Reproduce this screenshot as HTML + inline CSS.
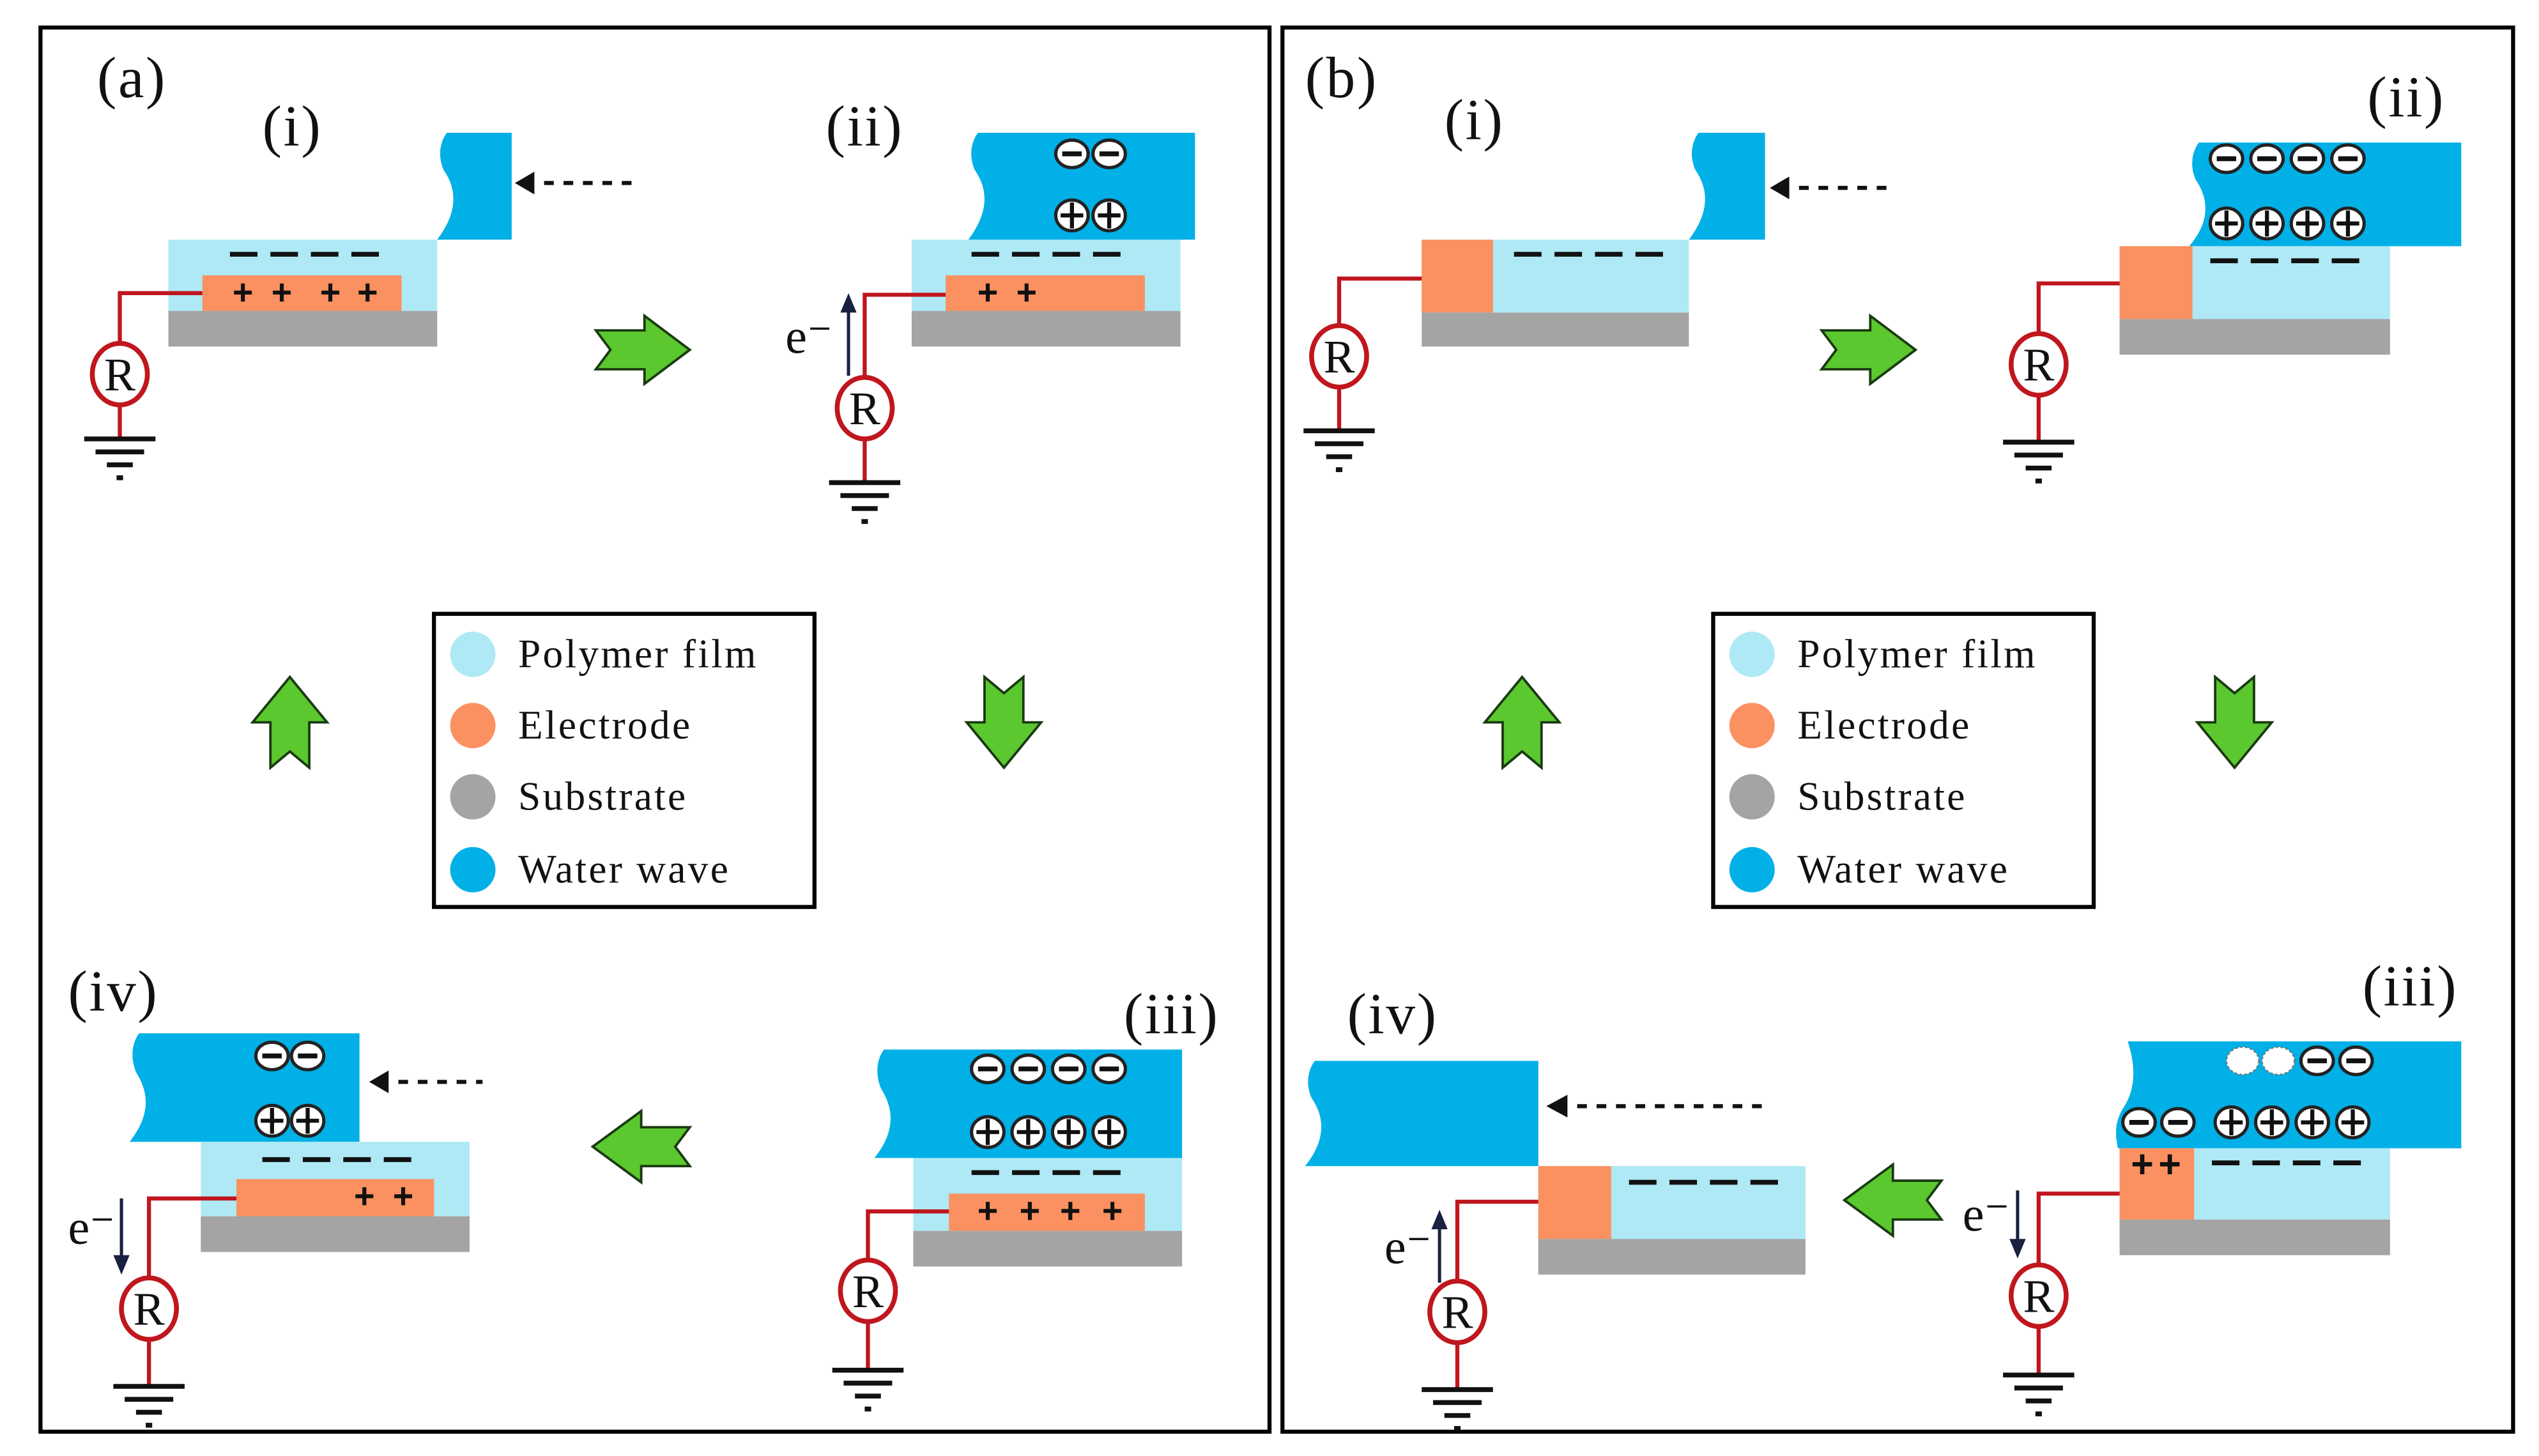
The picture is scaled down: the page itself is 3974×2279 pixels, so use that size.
<!DOCTYPE html>
<html><head><meta charset="utf-8"><style>html,body{margin:0;padding:0;background:#fff}svg{display:block}</style></head><body>
<svg width="3974" height="2279" viewBox="0 0 1568 899" preserveAspectRatio="none" xmlns="http://www.w3.org/2000/svg" font-family="Liberation Serif, serif">
<defs>
<g id="m"><ellipse cx="0" cy="0" rx="10" ry="8.5" fill="#fff" stroke="#222" stroke-width="2"/><line x1="-6" y1="0" x2="6" y2="0" stroke="#111" stroke-width="3"/></g>
<g id="p"><ellipse cx="0" cy="0" rx="10" ry="9.5" fill="#fff" stroke="#222" stroke-width="2"/><line x1="-7" y1="0" x2="7" y2="0" stroke="#111" stroke-width="2.5"/><line x1="0" y1="-8" x2="0" y2="8" stroke="#111" stroke-width="2.5"/></g>
<g id="d"><ellipse cx="0" cy="0" rx="10" ry="8.5" fill="#fff" stroke="#777" stroke-width="1" stroke-dasharray="1.5 1.5"/></g>
<g id="gnd" stroke="#111" stroke-width="3"><line x1="-22" y1="0" x2="22" y2="0"/><line x1="-15" y1="8" x2="15" y2="8"/><line x1="-8" y1="16" x2="8" y2="16"/><line x1="-2" y1="24" x2="2" y2="24"/></g>
<g id="R"><ellipse cx="0" cy="0" rx="17" ry="19" fill="#fff" stroke="#c0161e" stroke-width="3"/><text x="0" y="10" font-size="29" text-anchor="middle" fill="#111">R</text></g>
</defs>
<g fill="none" stroke="#000" stroke-width="2.5"><rect x="25" y="17" width="759" height="867"/><rect x="792" y="17" width="760" height="867"/></g>

<g font-size="36" fill="#111" letter-spacing="1">
<text x="60" y="60">(a)</text><text x="162" y="90">(i)</text><text x="510" y="90">(ii)</text><text x="42" y="624">(iv)</text><text x="694" y="638">(iii)</text>
<text x="806" y="60">(b)</text><text x="892" y="86">(i)</text><text x="1462" y="72">(ii)</text><text x="832" y="638">(iv)</text><text x="1459" y="621">(iii)</text>
</g>

<!-- green arrows -->
<g fill="#5ac82e" stroke="#1a3a10" stroke-width="1.5">
<polygon points="368,204 398,204 398,195 426,216 398,237 398,228 368,228 377,216"/>
<polygon points="1125,204 1155,204 1155,195 1183,216 1155,237 1155,228 1125,228 1134,216"/>
<polygon points="426,696 396,696 396,686 366,708 396,730 396,720 426,720 417,708"/>
<polygon points="1199,729 1169,729 1169,719 1139,741 1169,763 1169,753 1199,753 1190,741"/>
<polygon points="608,418 620,428 632,418 632,446 643,446 620,474 597,446 608,446"/>
<polygon points="1368,418 1380,428 1392,418 1392,446 1403,446 1380,474 1357,446 1368,446"/>
<polygon points="167,474 179,464 191,474 191,446 202,446 179,418 156,446 167,446"/>
<polygon points="928,474 940,464 952,474 952,446 963,446 940,418 917,446 928,446"/>
</g>

<!-- legends -->
<g>
<rect x="268" y="379" width="235" height="181" fill="#fff" stroke="#000" stroke-width="2.5"/>
<circle cx="292" cy="404" r="14" fill="#aee9f5"/><circle cx="292" cy="448" r="14" fill="#fb9160"/><circle cx="292" cy="492" r="14" fill="#a4a4a4"/><circle cx="292" cy="537" r="14" fill="#00b0e6"/>
<g font-size="25" fill="#111" letter-spacing="1.3"><text x="320" y="412">Polymer film</text><text x="320" y="456">Electrode</text><text x="320" y="500">Substrate</text><text x="320" y="545">Water wave</text></g>
<rect x="1058" y="379" width="235" height="181" fill="#fff" stroke="#000" stroke-width="2.5"/>
<circle cx="1082" cy="404" r="14" fill="#aee9f5"/><circle cx="1082" cy="448" r="14" fill="#fb9160"/><circle cx="1082" cy="492" r="14" fill="#a4a4a4"/><circle cx="1082" cy="537" r="14" fill="#00b0e6"/>
<g font-size="25" fill="#111" letter-spacing="1.3"><text x="1110" y="412">Polymer film</text><text x="1110" y="456">Electrode</text><text x="1110" y="500">Substrate</text><text x="1110" y="545">Water wave</text></g>
</g>

<g stroke-linecap="butt">
<!-- a(i) -->
<path d="M276 82 H316 V148 H270 C282 132 283 118 274 105 C270 96 272 87 276 82Z" fill="#00b0e6"/>
<path d="M318 113 L330 106 V120Z" fill="#111"/><line x1="336" y1="113" x2="390" y2="113" stroke="#111" stroke-width="2.5" stroke-dasharray="6 6"/>
<rect x="104" y="148" width="166" height="45" fill="#aee9f5"/><rect x="125" y="170" width="123" height="22" fill="#fb9160"/><rect x="104" y="192" width="166" height="22" fill="#a4a4a4"/>
<line x1="142" y1="157" x2="238" y2="157" stroke="#111" stroke-width="3" stroke-dasharray="17 8"/>
<g font-size="22" font-weight="bold" font-family="Liberation Sans,sans-serif" fill="#111" text-anchor="middle"><text x="150" y="188">+</text><text x="174" y="188">+</text><text x="204" y="188">+</text><text x="227" y="188">+</text></g>
<polyline points="125,181 74,181 74,212" fill="none" stroke="#c0161e" stroke-width="2.5"/><line x1="74" y1="250" x2="74" y2="270" stroke="#c0161e" stroke-width="2.5"/>
<use href="#R" x="74" y="231"/><use href="#gnd" x="74" y="271"/>

<!-- a(ii) -->
<path d="M604 82 H738 V148 H598 C610 132 611 118 602 105 C598 96 600 87 604 82Z" fill="#00b0e6"/>
<use href="#m" x="662" y="95"/><use href="#m" x="685" y="95"/><use href="#p" x="662" y="133"/><use href="#p" x="685" y="133"/>
<rect x="563" y="148" width="166" height="45" fill="#aee9f5"/><rect x="584" y="170" width="123" height="22" fill="#fb9160"/><rect x="563" y="192" width="166" height="22" fill="#a4a4a4"/>
<line x1="600" y1="157" x2="696" y2="157" stroke="#111" stroke-width="3" stroke-dasharray="17 8"/>
<g font-size="22" font-weight="bold" font-family="Liberation Sans,sans-serif" fill="#111" text-anchor="middle"><text x="610" y="188">+</text><text x="634" y="188">+</text></g>
<polyline points="584,182 534,182 534,233" fill="none" stroke="#c0161e" stroke-width="2.5"/><line x1="534" y1="271" x2="534" y2="297" stroke="#c0161e" stroke-width="2.5"/>
<use href="#R" x="534" y="252"/><use href="#gnd" x="534" y="298"/>
<line x1="524" y1="232" x2="524" y2="190" stroke="#1a2040" stroke-width="2"/><path d="M524 181 L519 193 H529Z" fill="#1a2040"/>
<text x="485" y="218" font-size="30" fill="#111">e⁻</text>

<!-- a(iv) -->
<path d="M86 638 H222 V705 H80 C92 690 93 676 84 662 C80 652 82 643 86 638Z" fill="#00b0e6"/>
<use href="#m" x="168" y="652"/><use href="#m" x="190" y="652"/><use href="#p" x="168" y="692"/><use href="#p" x="190" y="692"/>
<path d="M228 668 L240 661 V675Z" fill="#111"/><line x1="246" y1="668" x2="298" y2="668" stroke="#111" stroke-width="2.5" stroke-dasharray="6 6"/>
<rect x="124" y="705" width="166" height="46" fill="#aee9f5"/><rect x="146" y="728" width="122" height="23" fill="#fb9160"/><rect x="124" y="751" width="166" height="22" fill="#a4a4a4"/>
<line x1="162" y1="716" x2="258" y2="716" stroke="#111" stroke-width="3" stroke-dasharray="17 8"/>
<g font-size="22" font-weight="bold" font-family="Liberation Sans,sans-serif" fill="#111" text-anchor="middle"><text x="225" y="746">+</text><text x="249" y="746">+</text></g>
<polyline points="146,740 92,740 92,789" fill="none" stroke="#c0161e" stroke-width="2.5"/><line x1="92" y1="827" x2="92" y2="855" stroke="#c0161e" stroke-width="2.5"/>
<use href="#R" x="92" y="808"/><use href="#gnd" x="92" y="856"/>
<line x1="75" y1="740" x2="75" y2="778" stroke="#1a2040" stroke-width="2"/><path d="M75 787 L70 775 H80Z" fill="#1a2040"/>
<text x="42" y="768" font-size="30" fill="#111">e⁻</text>

<!-- a(iii) -->
<path d="M546 648 H730 V715 H540 C552 700 553 686 544 672 C540 662 542 653 546 648Z" fill="#00b0e6"/>
<use href="#m" x="610" y="660"/><use href="#m" x="635" y="660"/><use href="#m" x="660" y="660"/><use href="#m" x="685" y="660"/>
<use href="#p" x="610" y="699"/><use href="#p" x="635" y="699"/><use href="#p" x="660" y="699"/><use href="#p" x="685" y="699"/>
<rect x="564" y="715" width="166" height="45" fill="#aee9f5"/><rect x="586" y="737" width="121" height="23" fill="#fb9160"/><rect x="564" y="760" width="166" height="22" fill="#a4a4a4"/>
<line x1="600" y1="724" x2="696" y2="724" stroke="#111" stroke-width="3" stroke-dasharray="17 8"/>
<g font-size="22" font-weight="bold" font-family="Liberation Sans,sans-serif" fill="#111" text-anchor="middle"><text x="610" y="755">+</text><text x="636" y="755">+</text><text x="661" y="755">+</text><text x="687" y="755">+</text></g>
<polyline points="586,748 536,748 536,778" fill="none" stroke="#c0161e" stroke-width="2.5"/><line x1="536" y1="816" x2="536" y2="845" stroke="#c0161e" stroke-width="2.5"/>
<use href="#R" x="536" y="797"/><use href="#gnd" x="536" y="846"/>

<!-- b(i) -->
<path d="M1049 82 H1090 V148 H1043 C1055 132 1056 118 1047 105 C1043 96 1045 87 1049 82Z" fill="#00b0e6"/>
<path d="M1093 116 L1105 109 V123Z" fill="#111"/><line x1="1111" y1="116" x2="1165" y2="116" stroke="#111" stroke-width="2.5" stroke-dasharray="6 6"/>
<rect x="878" y="148" width="165" height="45" fill="#aee9f5"/><rect x="878" y="148" width="44" height="45" fill="#fb9160"/><rect x="878" y="193" width="165" height="21" fill="#a4a4a4"/>
<line x1="935" y1="157" x2="1031" y2="157" stroke="#111" stroke-width="3" stroke-dasharray="17 8"/>
<polyline points="878,172 827,172 827,201" fill="none" stroke="#c0161e" stroke-width="2.5"/><line x1="827" y1="239" x2="827" y2="265" stroke="#c0161e" stroke-width="2.5"/>
<use href="#R" x="827" y="220"/><use href="#gnd" x="827" y="266"/>

<!-- b(ii) -->
<path d="M1358 88 H1520 V152 H1352 C1364 138 1365 124 1356 111 C1352 102 1354 93 1358 88Z" fill="#00b0e6"/>
<use href="#m" x="1375" y="98"/><use href="#m" x="1400" y="98"/><use href="#m" x="1425" y="98"/><use href="#m" x="1450" y="98"/>
<use href="#p" x="1375" y="138"/><use href="#p" x="1400" y="138"/><use href="#p" x="1425" y="138"/><use href="#p" x="1450" y="138"/>
<rect x="1309" y="152" width="167" height="45" fill="#aee9f5"/><rect x="1309" y="152" width="45" height="45" fill="#fb9160"/><rect x="1309" y="197" width="167" height="22" fill="#a4a4a4"/>
<line x1="1365" y1="161" x2="1461" y2="161" stroke="#111" stroke-width="3" stroke-dasharray="17 8"/>
<polyline points="1309,175 1259,175 1259,206" fill="none" stroke="#c0161e" stroke-width="2.5"/><line x1="1259" y1="244" x2="1259" y2="272" stroke="#c0161e" stroke-width="2.5"/>
<use href="#R" x="1259" y="225"/><use href="#gnd" x="1259" y="273"/>

<!-- b(iii) -->
<path d="M1314 643 H1520 V709 H1308 C1306 700 1306 692 1312 683 C1320 670 1318 655 1314 643Z" fill="#00b0e6"/>
<use href="#d" x="1385" y="655"/><use href="#d" x="1407" y="655"/><use href="#m" x="1431" y="655"/><use href="#m" x="1455" y="655"/>
<use href="#m" x="1321" y="693"/><use href="#m" x="1345" y="693"/>
<use href="#p" x="1378" y="693"/><use href="#p" x="1403" y="693"/><use href="#p" x="1428" y="693"/><use href="#p" x="1453" y="693"/>
<rect x="1309" y="709" width="167" height="44" fill="#aee9f5"/><rect x="1309" y="709" width="46" height="44" fill="#fb9160"/><rect x="1309" y="753" width="167" height="22" fill="#a4a4a4"/>
<line x1="1366" y1="718" x2="1462" y2="718" stroke="#111" stroke-width="3" stroke-dasharray="17 8"/>
<g font-size="24" font-weight="bold" font-family="Liberation Sans,sans-serif" fill="#111" text-anchor="middle"><text x="1323" y="727">+</text><text x="1340" y="727">+</text></g>
<polyline points="1309,737 1259,737 1259,781" fill="none" stroke="#c0161e" stroke-width="2.5"/><line x1="1259" y1="819" x2="1259" y2="848" stroke="#c0161e" stroke-width="2.5"/>
<use href="#R" x="1259" y="800"/><use href="#gnd" x="1259" y="849"/>
<line x1="1246" y1="735" x2="1246" y2="768" stroke="#1a2040" stroke-width="2"/><path d="M1246 777 L1241 765 H1251Z" fill="#1a2040"/>
<text x="1212" y="760" font-size="30" fill="#111">e⁻</text>

<!-- b(iv) -->
<path d="M812 655 H950 V720 H806 C818 705 819 691 810 678 C806 669 808 660 812 655Z" fill="#00b0e6"/>
<path d="M955 683 L968 676 V690Z" fill="#111"/><line x1="974" y1="683" x2="1092" y2="683" stroke="#111" stroke-width="2.5" stroke-dasharray="6 6"/>
<rect x="950" y="720" width="165" height="45" fill="#aee9f5"/><rect x="950" y="720" width="45" height="45" fill="#fb9160"/><rect x="950" y="765" width="165" height="22" fill="#a4a4a4"/>
<line x1="1006" y1="730" x2="1102" y2="730" stroke="#111" stroke-width="3" stroke-dasharray="17 8"/>
<polyline points="950,742 900,742 900,791" fill="none" stroke="#c0161e" stroke-width="2.5"/><line x1="900" y1="829" x2="900" y2="857" stroke="#c0161e" stroke-width="2.5"/>
<use href="#R" x="900" y="810"/><use href="#gnd" x="900" y="858"/>
<line x1="889" y1="792" x2="889" y2="756" stroke="#1a2040" stroke-width="2"/><path d="M889 747 L884 759 H894Z" fill="#1a2040"/>
<text x="855" y="780" font-size="30" fill="#111">e⁻</text>
</g>
</svg>
</body></html>
